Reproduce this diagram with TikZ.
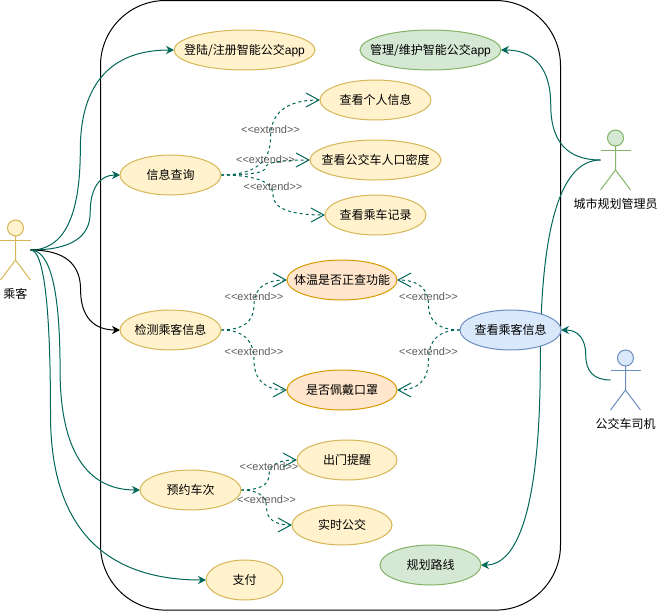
\documentclass[tikz,border=0pt]{standalone}
\usepackage{fontspec}
\setmainfont{Liberation Sans}
\newfontfamily\cjk{Noto Sans CJK SC}
\newfontfamily\latin{Liberation Sans}
\usepackage{xcolor}
\usetikzlibrary{shapes.geometric,arrows.meta,positioning,calc,backgrounds}

\definecolor{yellowfill}{HTML}{FFF2CC}
\definecolor{yellowline}{HTML}{D6B656}
\definecolor{greenfill}{HTML}{D5E8D4}
\definecolor{greenline}{HTML}{82B366}
\definecolor{bluefill}{HTML}{DAE8FC}
\definecolor{blueline}{HTML}{6C8EBF}
\definecolor{orangefill}{HTML}{FFE6CC}
\definecolor{orangeline}{HTML}{D79B00}
\definecolor{teal}{HTML}{006658}
\definecolor{taggray}{HTML}{5C5C5C}

\begin{document}
\begin{tikzpicture}[
    x=0.75pt, y=-0.75pt,
    usecase/.style={ellipse, draw=yellowline, fill=yellowfill, line width=0.75pt, minimum height=30pt, inner xsep=-10pt, inner ysep=0pt, outer sep=0pt, text=black, text height=7.2pt, text depth=0pt, font=\cjk\fontsize{9}{11}\selectfont},
    greencase/.style={usecase, draw=greenline, fill=greenfill},
    bluecase/.style={usecase, draw=blueline, fill=bluefill},
    orangecase/.style={usecase, draw=orangeline, fill=orangefill},
    arrow/.style={-{Stealth[length=6pt, width=6pt]}, teal, line width=0.75pt},
    extendarrow/.style={-{Straight Barb[length=9.75pt, width=10.5pt]}, teal, line width=0.75pt, dash pattern=on 2.25pt off 2.25pt},
    tag/.style={pos=1, yshift=6pt, text=taggray, inner sep=0pt, font=\latin\fontsize{8.25}{10}\selectfont},
    route/.style={to path={let \p1=(\tikztostart), \p2=(\tikztotarget), \n1={\x1+#1*(\x2-\x1)}, \n2={(\y1+\y2)/2} in
        .. controls ($(\p1)!.667!(\n1,\y1)$) and ($(\n1,\n2)!.667!(\n1,\y1)$) .. (\n1,\n2) \tikztonodes
        .. controls ($(\n1,\n2)!.667!(\n1,\y2)$) and ($(\p2)!.667!(\n1,\y2)$) .. (\p2)}}
]
    \useasboundingbox (0,0) rectangle (658,611);

    % Use cases (left column)
    \node[usecase, minimum width=105.75pt] (login) at (244.5,50) {登陆/注册智能公交{\latin app}};
    \node[usecase, minimum width=75.75pt] (query) at (170.5,175) {信息查询};
    \node[usecase, minimum width=75.75pt] (detect) at (170.5,330) {检测乘客信息};
    \node[usecase, minimum width=75.75pt] (reserve) at (190.5,490) {预约车次};
    \node[usecase, minimum width=57.75pt] (pay) at (244.5,580) {支付};

    % Extensions of query
    \node[usecase, minimum width=83.25pt, right=74.25pt of query, yshift=56.25pt] (personal) {查看个人信息};
    \node[usecase, minimum width=98.25pt, right=66.75pt of query, yshift=11.25pt] (density) {查看公交车人口密度};
    \node[usecase, minimum width=75.75pt, right=78pt of query, yshift=-30pt] (record) {查看乘车记录};

    % Extensions of detect
    \node[orangecase, minimum width=82.5pt, right=49.5pt of detect, yshift=37.5pt] (temperature) {体温是否正查功能};
    \node[orangecase, minimum width=82.5pt, right=49.5pt of detect, yshift=-45pt] (mask) {是否佩戴口罩};

    % Extensions of reserve
    \node[usecase, minimum width=75pt, right=42pt of reserve, yshift=22.5pt] (remind) {出门提醒};
    \node[usecase, minimum width=75pt, right=38.25pt of reserve, yshift=-26.25pt] (realtime) {实时公交};

    % Use cases (right side)
    \node[greencase, minimum width=105.75pt, right=33.75pt of login] (manage) {管理/维护智能公交{\latin app}};
    \node[bluecase, minimum width=75.75pt] (viewinfo) at (510.5,330) {查看乘客信息};
    \node[greencase, minimum width=75.75pt] (plan) at (430.5,565) {规划路线};

    % Actors
    \foreach \name/\x/\y/\fillcol/\linecol/\role in {passenger/15.5/228/yellowfill/yellowline/乘客, planner/615.5/138/greenfill/greenline/城市规划管理员, driver/625.5/358/bluefill/blueline/公交车司机} {
        \node[circle, draw=\linecol, fill=\fillcol, line width=0.75pt, minimum size=12pt, inner sep=0pt, outer sep=0pt] (\name) at (\x,\y) {};
        \draw[\linecol, line width=0.75pt] (\name.south) -- ++(0,24) -- ++(-15,20) ++(15,-20) -- ++(15,20);
        \draw[\linecol, line width=0.75pt] (\x-15,\y+12) -- (\x+15,\y+12);
        \node[font=\cjk\fontsize{9}{11}\selectfont, text height=7.2pt, text depth=0pt, inner sep=0pt] (\name-text) at (\x,\y+66) {\role};
        \coordinate (\name-east) at (\x+15,\y+22);
        \coordinate (\name-west) at (\x-15,\y+22);
    }

    \begin{scope}[on background layer]
        % System boundary
        \node[draw=black, rounded corners=48.75pt, line width=0.75pt, minimum width=345pt, minimum height=457.2pt, inner sep=0pt] (system) at (330.5,305.3) {};

        % Passenger connections
        \draw[arrow] (passenger-east) to[route=.347] (login.west);
        \draw[arrow] (passenger-east) to[route=.667] (query.west);
        \draw[arrow, black] (passenger-east) to[route=.56] (detect.west);
        \draw[arrow] (passenger-east) to[route=.27] (reserve.west);
        \draw[arrow] (passenger-east) to[route=.114] (pay.west);

        % Planner and driver connections
        \draw[arrow] (planner-west) to[route=.5] (manage.east);
        \draw[arrow] (planner-west) to[route=.504] (plan.east);
        \draw[arrow] (driver-west) to[route=.5] (viewinfo.east);

        % Extend connections
        \draw[extendarrow] (query.east) to[route=.5] node[tag] {<<extend>>} (personal.west);
        \draw[extendarrow] (query.east) to[route=.5] node[tag] {<<extend>>} (density.west);
        \draw[extendarrow] (query.east) to[route=.5] node[tag] {<<extend>>} (record.west);
        \draw[extendarrow] (detect.east) to[route=.5] node[tag] {<<extend>>} (temperature.west);
        \draw[extendarrow] (detect.east) to[route=.5] node[tag] {<<extend>>} (mask.west);
        \draw[extendarrow] (viewinfo.west) to[route=.5] node[tag] {<<extend>>} (temperature.east);
        \draw[extendarrow] (viewinfo.west) to[route=.5] node[tag] {<<extend>>} (mask.east);
        \draw[extendarrow] (reserve.east) to[route=.5] node[tag] {<<extend>>} (remind.west);
        \draw[extendarrow] (reserve.east) to[route=.5] node[tag] {<<extend>>} (realtime.west);
    \end{scope}

\end{tikzpicture}
\end{document}
